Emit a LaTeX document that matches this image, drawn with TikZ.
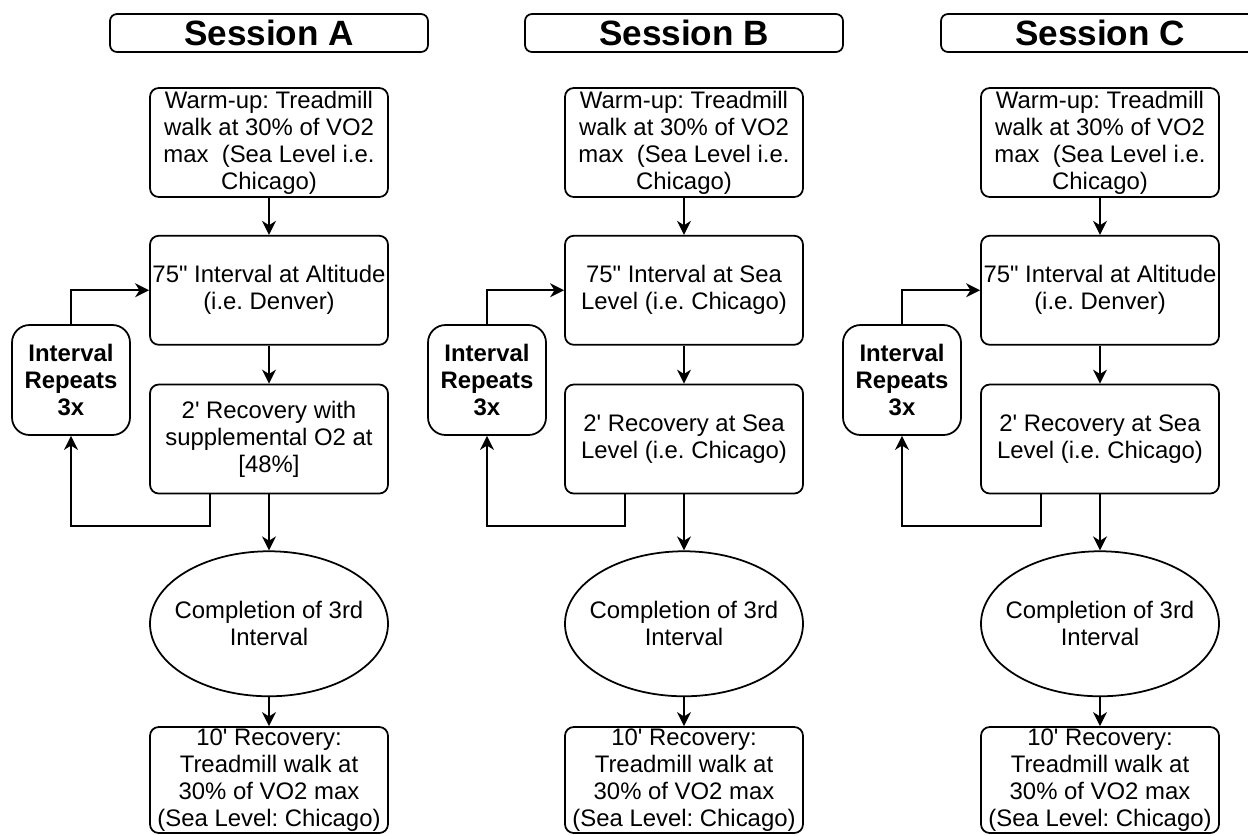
\documentclass[tikz,border=0pt]{standalone}
\usepackage{fontspec}
\setmainfont{Liberation Sans}
\usetikzlibrary{shapes.geometric, arrows.meta, positioning}
\frenchspacing
\newcommand{\boxfont}{\fontsize{13.6}{15.4}\selectfont}
\tikzset{
  session/.style={
    rectangle, rounded corners=4pt,
    minimum width=6.36cm, minimum height=0.76cm, inner sep=0pt,
    draw=black, line width=1pt,
    font=\fontsize{20}{22}\selectfont\bfseries,
  },
  process/.style={
    rectangle, rounded corners=5pt,
    minimum width=4.76cm, minimum height=2.18cm, inner sep=0pt,
    align=center, draw=black, line width=1pt,
    font=\boxfont,
  },
  final/.style={process, minimum height=2.12cm, inner ysep=-3pt},
  milestone/.style={
    ellipse,
    minimum width=4.76cm, minimum height=2.9cm, inner xsep=-0.22cm, inner ysep=0pt,
    align=center, draw=black, line width=1pt,
    font=\boxfont,
  },
  loopbox/.style={
    rectangle, rounded corners=10pt,
    minimum width=2.36cm, minimum height=2.2cm, inner sep=0pt,
    align=center, draw=black, line width=1pt,
    font=\boxfont\bfseries,
  },
  arrow/.style={-{Stealth[length=8pt, width=8pt, inset=2.5pt]}, line width=0.9pt},
}

\begin{document}
\begin{tikzpicture}[node distance=0.74cm]
  \useasboundingbox (0,0) rectangle (24.96,-16.7);

  % Session A
  \node[session] (headA) at (5.38,-0.66) {Session A};
  \node[process] (warmA) at (5.38,-2.85) {Warm-up: Treadmill \\ walk at 30\% of VO2 \\ max \ (Sea Level i.e. \\ Chicago)};
  \node[process, below=of warmA] (intA) {75\textquotedbl{} Interval at Altitude \\ (i.e. Denver)};
  \node[process, below=0.76cm of intA] (recA) {2\textquotesingle{} Recovery with \\ supplemental O2 at \\ {[48\%]}};
  \node[milestone, below=1.12cm of recA] (doneA) {Completion of 3rd \\ Interval};
  \node[final] (coolA) at (5.38,-15.6) {10\textquotesingle{} Recovery: \\ Treadmill walk at \\ 30\% of VO2 max \\ (Sea Level: Chicago)};
  \node[loopbox] (repA) at (1.42,-7.6) {Interval \\ Repeats \\ 3x};
  \coordinate (loopA) at (4.2,-10.52);

  % Session B
  \node[session] (headB) at (13.68,-0.66) {Session B};
  \node[process] (warmB) at (13.68,-2.85) {Warm-up: Treadmill \\ walk at 30\% of VO2 \\ max \ (Sea Level i.e. \\ Chicago)};
  \node[process, below=of warmB] (intB) {75\textquotedbl{} Interval at Sea \\ Level (i.e. Chicago)};
  \node[process, below=0.76cm of intB] (recB) {2\textquotesingle{} Recovery at Sea \\ Level (i.e. Chicago)};
  \node[milestone, below=1.12cm of recB] (doneB) {Completion of 3rd \\ Interval};
  \node[final] (coolB) at (13.68,-15.6) {10\textquotesingle{} Recovery: \\ Treadmill walk at \\ 30\% of VO2 max \\ (Sea Level: Chicago)};
  \node[loopbox] (repB) at (9.74,-7.6) {Interval \\ Repeats \\ 3x};
  \coordinate (loopB) at (12.5,-10.52);

  % Session C
  \node[session] (headC) at (22.0,-0.66) {Session C};
  \node[process] (warmC) at (22.0,-2.85) {Warm-up: Treadmill \\ walk at 30\% of VO2 \\ max \ (Sea Level i.e. \\ Chicago)};
  \node[process, below=of warmC] (intC) {75\textquotedbl{} Interval at Altitude \\ (i.e. Denver)};
  \node[process, below=0.76cm of intC] (recC) {2\textquotesingle{} Recovery at Sea \\ Level (i.e. Chicago)};
  \node[milestone, below=1.12cm of recC] (doneC) {Completion of 3rd \\ Interval};
  \node[final] (coolC) at (22.0,-15.6) {10\textquotesingle{} Recovery: \\ Treadmill walk at \\ 30\% of VO2 max \\ (Sea Level: Chicago)};
  \node[loopbox] (repC) at (18.04,-7.6) {Interval \\ Repeats \\ 3x};
  \coordinate (loopC) at (20.82,-10.52);

  \foreach \s in {A,B,C} {
    \draw[arrow] (warm\s) -- (int\s);
    \draw[arrow] (int\s) -- (rec\s);
    \draw[arrow] (rec\s) -- (done\s);
    \draw[arrow] (done\s) -- (cool\s);
    \draw[arrow] (rec\s.south -| loop\s) -- (loop\s) -| (rep\s.south);
    \draw[arrow] (rep\s.north) |- (int\s.west);
  }

\end{tikzpicture}
\end{document}
